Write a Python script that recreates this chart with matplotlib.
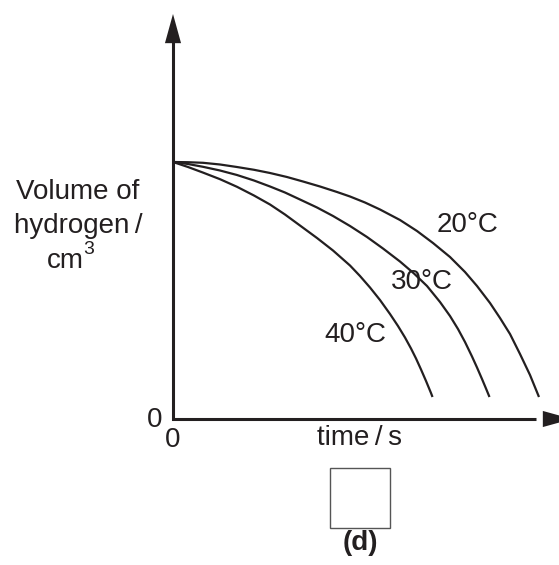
import matplotlib
matplotlib.use("Agg")
import matplotlib.pyplot as plt
from matplotlib.patches import Rectangle

plt.rcParams['font.family'] = ['Liberation Sans', 'DejaVu Sans']

# curves (time, volume in arbitrary units)
t_20 = [0, 0.411, 0.822, 1.288, 1.753, 2.219, 2.658, 3.123, 3.562, 4.027, 4.493, 4.849, 5.260,
        5.671, 6.219, 6.685, 7.123, 7.589, 8.000, 8.329, 8.685, 8.959, 9.233, 9.507, 9.781, 10.027]
v_20 = [10.0, 9.992, 9.969, 9.903, 9.805, 9.697, 9.572, 9.416, 9.241, 9.047, 8.833, 8.658, 8.424,
        8.152, 7.743, 7.315, 6.848, 6.304, 5.720, 5.175, 4.514, 3.930, 3.307, 2.529, 1.712, 0.856]

t_30 = [0, 0.411, 0.822, 1.288, 1.753, 2.219, 2.658, 3.068, 3.479, 3.945, 4.384, 4.849, 5.315,
        5.753, 6.219, 6.603, 6.959, 7.315, 7.589, 7.808, 8.000, 8.192, 8.329, 8.466, 8.575, 8.671]
v_30 = [10.0, 9.922, 9.813, 9.669, 9.494, 9.280, 9.047, 8.813, 8.541, 8.230, 7.899, 7.510, 7.082,
        6.634, 6.128, 5.661, 5.175, 4.553, 4.008, 3.502, 2.996, 2.432, 2.004, 1.556, 1.187, 0.856]

t_40 = [0, 0.411, 0.822, 1.288, 1.753, 2.219, 2.658, 3.068, 3.479, 3.945, 4.384, 4.849,
        5.123, 5.397, 5.671, 5.945, 6.164, 6.356, 6.521, 6.658, 6.795, 6.932, 7.068, 7.110]
v_40 = [10.0, 9.805, 9.588, 9.331, 9.035, 8.696, 8.346, 7.957, 7.529, 7.043, 6.556, 5.973,
        5.564, 5.117, 4.630, 4.086, 3.619, 3.171, 2.743, 2.354, 1.926, 1.479, 1.012, 0.856]

labels = ['20°C', '30°C', '40°C']
label_pos = [(8.08, 7.55), (6.82, 5.33), (4.99, 3.27)]

ink = '#231f20'

# figure is 559x565 px, origin of the axes at pixel (173, 419)
px_t = 36.5
px_v = 25.7
ox, oy = 173, 419
W, H = 559, 565

fig = plt.figure(figsize=(W / 100, H / 100), dpi=100)
ax = fig.add_axes([0, 0, 1, 1])
ax.set_xlim(-ox / px_t, (W - ox) / px_t)
ax.set_ylim(-(H - oy) / px_v, oy / px_v)
ax.axis('off')

# axes with arrow heads
y_top = (oy - 14) / px_v
x_end = (572 - ox) / px_t
ax.plot([0, 0, x_end - 1.0], [y_top - 1.0, 0, 0], color=ink, lw=2.2,
        solid_joinstyle='miter', solid_capstyle='butt', clip_on=False)
head = dict(arrowstyle='-|>,head_length=1.05,head_width=0.29', mutation_scale=20,
            lw=0, color=ink, shrinkA=0, shrinkB=0)
ax.annotate('', xy=(0, y_top), xytext=(0, y_top - 1.2), arrowprops=head,
            annotation_clip=False)
ax.annotate('', xy=(x_end, 0), xytext=(x_end - 0.9, 0), arrowprops=head,
            annotation_clip=False)

# the three curves
for t, v in [(t_20, v_20), (t_30, v_30), (t_40, v_40)]:
    ax.plot(t, v, color=ink, lw=1.6, solid_joinstyle='round', solid_capstyle='butt')

for lab, (x, y) in zip(labels, label_pos):
    ax.text(x, y, lab, fontsize=20, color=ink, ha='center', va='center')

# axis labels
ax.text(-2.60, (oy - 199) / px_v, 'Volume of', fontsize=20, color=ink,
        ha='center', va='baseline')
ax.text(-2.60, (oy - 233) / px_v, 'hydrogen\u2009/', fontsize=20, color=ink,
        ha='center', va='baseline')
ax.text(-2.44, (oy - 268) / px_v, 'cm', fontsize=20, color=ink,
        ha='right', va='baseline')
ax.text(-2.47, (oy - 254) / px_v, '3', fontsize=14, color=ink,
        ha='left', va='baseline')

ax.text(-0.49, -0.04, '0', fontsize=20, color=ink, ha='center', va='center')
ax.text(0, -0.82, '0', fontsize=20, color=ink, ha='center', va='center')
ax.text(5.12, -0.74, 'time\u2009/\u2009s', fontsize=20, color=ink, ha='center', va='center')

# answer box and part letter
ax.add_patch(Rectangle((4.30, -4.24), 1.64, 2.33, fill=False, ec='#555555', lw=1.0))
ax.text(5.12, -4.82, '(d)', fontsize=20, fontweight='bold', color=ink,
        ha='center', va='center')

fig.savefig('out.png', dpi=100)
